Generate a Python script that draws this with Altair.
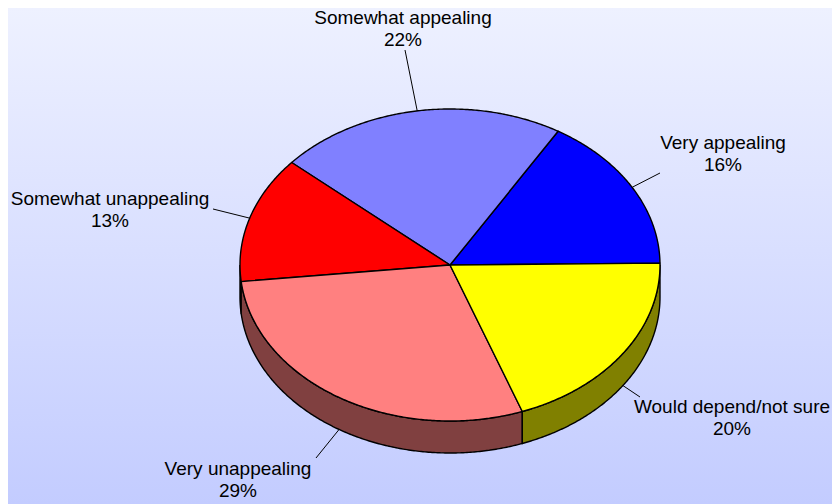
import math
import altair as alt
import pandas as pd

names = ["Very appealing", "Somewhat appealing", "Somewhat unappealing", "Very unappealing", "Would depend/not sure"]
shares = [16.2, 22.2, 13.1, 28.9, 19.6]
shown = [16, 22, 13, 29, 20]
top_colors = ["#0000ff", "#8080ff", "#ff0000", "#ff8080", "#ffff00"]
side_colors = ["#000080", "#404080", "#800000", "#804040", "#808000"]
label_x = [723, 403, 110, 238, 732]
label_y = [143, 18, 199, 469, 407]
leader_x = [660, 405, 213, 316, 640]
leader_y = [173, 50, 209, 458, 397]

CX, CY, RX, RY, DEPTH, START = 450, 265, 210, 156, 32, 0.7
W, H = 832, 504
xs = alt.Scale(domain=[8, W], range=[0, W - 8])
ys = alt.Scale(domain=[8, H], range=[0, H - 8])


def pt(deg, dy=0):
    r = math.radians(deg)
    return CX + RX * math.cos(r), CY - RY * math.sin(r) + dy


def arc(a, b):
    n = max(2, int(abs(b - a) * 2))
    return [a + (b - a) * i / n for i in range(n + 1)]


def poly(points, fill, width=1.4):
    df = pd.DataFrame(points, columns=["x", "y"]).reset_index()
    return alt.Chart(df).mark_line(fill=fill, stroke="black", strokeWidth=width, strokeJoin="round").encode(
        x=alt.X("x:Q", scale=xs, axis=None),
        y=alt.Y("y:Q", scale=ys, axis=None),
        order="index:Q",
    )


bg = alt.Chart(pd.DataFrame({"a": [0]})).mark_rect(
    color=alt.Gradient(gradient="linear", x1=0, y1=0, x2=0, y2=1,
                       stops=[alt.GradientStop(color="#eef1ff", offset=0),
                              alt.GradientStop(color="#c3ccff", offset=1)])
).encode(x=alt.value(0), x2=alt.value(W - 8), y=alt.value(0), y2=alt.value(H - 8))

layers = [bg]
angle = START
bounds = []
for s in shares:
    bounds.append((angle, angle + s * 3.6))
    angle += s * 3.6

# side walls (only the part of the rim that faces the viewer)
for (a, b), c in zip(bounds, side_colors):
    lo, hi = max(a, 180), min(b, 360)
    if lo < hi:
        ang = arc(lo, hi)
        pts = [pt(t) for t in ang] + [pt(t, DEPTH) for t in reversed(ang)]
        pts.append(pts[0])
        layers.append(poly(pts, c))

# leaders
rows = []
for (a, b), lx, ly in zip(bounds, leader_x, leader_y):
    m = (a + b) / 2
    x, y = pt(m, DEPTH if 180 < m % 360 < 360 else 0)
    rows.append({"x": x, "y": y, "x2": lx, "y2": ly})
layers.append(alt.Chart(pd.DataFrame(rows)).mark_rule(color="black", strokeWidth=1).encode(
    x=alt.X("x:Q", scale=xs, axis=None), y=alt.Y("y:Q", scale=ys, axis=None), x2="x2:Q", y2="y2:Q"))

# top faces
for (a, b), c in zip(bounds, top_colors):
    pts = [(CX, CY)] + [pt(t) for t in arc(a, b)] + [(CX, CY)]
    layers.append(poly(pts, c))

labels = pd.DataFrame({"t": [f"{n}\n{s}%" for n, s in zip(names, shown)], "x": label_x, "y": label_y})
layers.append(alt.Chart(labels).mark_text(
    font="Liberation Sans", fontSize=19, lineBreak="\n", lineHeight=22, align="center", baseline="middle", color="black"
).encode(x=alt.X("x:Q", scale=xs, axis=None), y=alt.Y("y:Q", scale=ys, axis=None), text="t:N"))

chart = alt.layer(*layers).properties(
    width=W - 8, height=H - 8, padding=0, autosize=alt.AutoSizeParams(type="none")
).configure_view(stroke=None)

chart.save("out.html", embed_options={"renderer": "svg", "actions": False})
